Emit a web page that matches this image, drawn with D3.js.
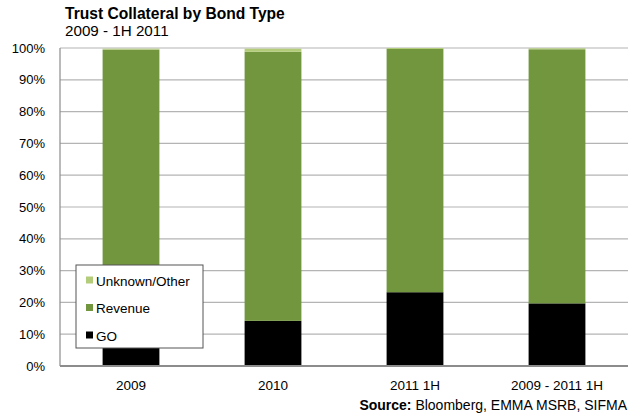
<!DOCTYPE html>
<html>
<head>
<meta charset="utf-8">
<script src="https://cdn.jsdelivr.net/npm/d3@7"></script>
<style>
body { margin: 0; background: #fff; }
text { font-family: "Liberation Sans", Arial, sans-serif; fill: #000; }
</style>
</head>
<body>
<div class="chart"></div>
<script>
const categories = ["2009", "2010", "2011 1H", "2009 - 2011 1H"];
const seriesNames = ["GO", "Revenue", "Unknown/Other"];
const goValues = [9.5, 14.2, 23.2, 19.7];
const revenueValues = [90.0, 84.6, 76.5, 79.9];
const unknownValues = [0.3, 1.0, 0.3, 0.3];
const yTicks = [0, 10, 20, 30, 40, 50, 60, 70, 80, 90, 100];

const colors = { "GO": "#000000", "Revenue": "#72963d", "Unknown/Other": "#b3cc7a" };

const W = 642, H = 420;
const margin = { top: 48, right: 14, bottom: 54, left: 60 },
    width = W - margin.left - margin.right,
    height = H - margin.top - margin.bottom;

const svgRoot = d3.select(".chart").append("svg")
    .attr("width", W).attr("height", H);

// titles
svgRoot.append("text").attr("x", 65).attr("y", 19)
    .style("font-size", "15.6px").style("font-weight", "bold")
    .text("Trust Collateral by Bond Type");
svgRoot.append("text").attr("x", 65).attr("y", 36)
    .style("font-size", "15.2px")
    .text("2009 - 1H 2011");

const svg = svgRoot.append("g")
    .attr("transform", `translate(${margin.left},${margin.top})`);

const rows = categories.map((c, i) => ({
    cat: c, "GO": goValues[i], "Revenue": revenueValues[i], "Unknown/Other": unknownValues[i]
}));
const stacked = d3.stack().keys(seriesNames)(rows);

const x = d3.scaleBand().domain(categories).range([0, width]).paddingInner(0.6).paddingOuter(0.3);
const y = d3.scaleLinear().domain([0, 100]).range([height, 0]);

// gridlines
svg.append("g").selectAll("line")
    .data(yTicks.filter(d => d > 0))
    .join("line")
    .attr("x1", 0).attr("x2", width)
    .attr("y1", d => y(d)).attr("y2", d => y(d))
    .attr("stroke", "#b4b4b4").attr("stroke-width", 1.2);

// y labels
svg.append("g").selectAll("text")
    .data(yTicks)
    .join("text")
    .attr("x", -15).attr("y", d => y(d))
    .attr("text-anchor", "end").attr("dominant-baseline", "central")
    .style("font-size", "13px")
    .text(d => d + "%");

// bars
svg.append("g").selectAll("g")
    .data(stacked)
    .join("g")
    .attr("fill", d => colors[d.key])
    .selectAll("rect")
    .data(d => d)
    .join("rect")
    .attr("x", d => x(d.data.cat))
    .attr("width", x.bandwidth())
    .attr("y", d => y(d[1]))
    .attr("height", d => y(d[0]) - y(d[1]));

// axes lines
svg.append("line").attr("x1", 0).attr("x2", 0).attr("y1", 0).attr("y2", height)
    .attr("stroke", "#8c8c8c").attr("stroke-width", 1.2);
svg.append("line").attr("x1", 0).attr("x2", width).attr("y1", height).attr("y2", height)
    .attr("stroke", "#8c8c8c").attr("stroke-width", 2);

// x labels
svg.append("g").selectAll("text")
    .data(categories)
    .join("text")
    .attr("x", d => x(d) + x.bandwidth() / 2)
    .attr("y", height + 24)
    .attr("text-anchor", "middle")
    .style("font-size", "13.5px")
    .text(d => d);

// legend
const legend = svgRoot.append("g").attr("transform", "translate(76,265)");
legend.append("rect").attr("width", 127).attr("height", 83)
    .attr("fill", "#fff").attr("stroke", "#555").attr("stroke-width", 1);
const legendOrder = ["Unknown/Other", "Revenue", "GO"];
legendOrder.forEach((k, i) => {
    const g = legend.append("g").attr("transform", `translate(10,${16 + i * 27.5})`);
    g.append("rect").attr("x", 0).attr("y", -4.5).attr("width", 7).attr("height", 7).attr("fill", colors[k]);
    g.append("text").attr("x", 10).attr("y", 0).attr("dominant-baseline", "central")
        .style("font-size", "13.5px").text(k);
});

// source
const src = svgRoot.append("text").attr("x", 627).attr("y", 410).attr("text-anchor", "end")
    .style("font-size", "14px");
src.append("tspan").style("font-weight", "bold").text("Source:");
src.append("tspan").text(" Bloomberg, EMMA MSRB, SIFMA");
</script>
</body>
</html>
